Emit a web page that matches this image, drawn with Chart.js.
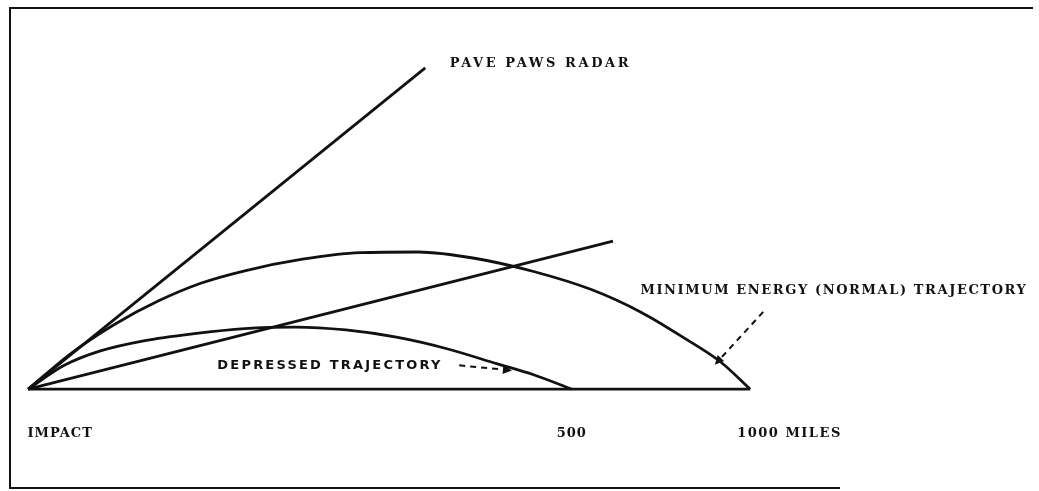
<!DOCTYPE html>
<html>
<head>
<meta charset="utf-8">
<script src="https://cdn.jsdelivr.net/npm/chart.js"></script>
<style>
  html, body { margin: 0; padding: 0; background: #fff; }
  #wrap { width: 1039px; height: 491px; }
</style>
</head>
<body>
<div id="wrap"><canvas id="myChart"></canvas></div>
<script>
// ground range (x) and altitude (y) in drawing units
const baseline = [{x: 0, y: 0}, {x: 1000, y: 0}];
const paveLine = [{x: 0, y: 0}, {x: 550, y: 445}];
const lowLine = [{x: 0, y: 0}, {x: 810, y: 205}];
const normalX = [0, 60, 120, 180, 240, 300, 380, 460, 540, 620, 700, 780, 850, 910, 960, 1000];
const normalY = [0, 50, 90, 122, 147, 164, 180, 189, 190, 181, 163, 138, 106, 70, 37, 0];
const depressedX = [0, 50, 100, 160, 230, 300, 370, 440, 510, 580, 650, 700, 753];
const depressedY = [0, 33, 53, 67, 77, 84, 86, 82, 72, 56, 35, 20, 0];

const pts = (xs, ys) => xs.map((x, i) => ({x: x, y: ys[i]}));

// text labels and arrows, anchored in the same units
const labels = [
  {text: 'PAVE PAWS RADAR', x: 584, y: 451, align: 'left', spacing: 2.6},
  {text: 'DEPRESSED TRAJECTORY', x: 262, y: 33, align: 'left', spacing: 2.2, sans: true},
  {text: 'MINIMUM ENERGY (NORMAL) TRAJECTORY', x: 848, y: 137, align: 'left', spacing: 1.6},
  {text: 'IMPACT', x: -1, y: -61, align: 'left', spacing: 1},
  {text: '500', x: 753, y: -61, align: 'center', spacing: 1},
  {text: '1000 MILES', x: 982, y: -61, align: 'left', spacing: 1.5}
];
const arrows = [
  {from: {x: 597, y: 33}, to: {x: 670, y: 26}},
  {from: {x: 1018, y: 107}, to: {x: 951, y: 34}}
];

const ink = '#111';

const drawingPlugin = {
  id: 'drawing',
  afterDraw(chart) {
    const c = chart.ctx;
    const xs = chart.scales.x, ys = chart.scales.y;
    c.save();
    // frame of the scanned figure (no right edge)
    c.strokeStyle = ink;
    c.lineWidth = 2;
    c.beginPath();
    c.moveTo(1033, 8);
    c.lineTo(10, 8);
    c.lineTo(10, 488);
    c.lineTo(840, 488);
    c.stroke();

    c.fillStyle = ink;
    c.textBaseline = 'middle';
    labels.forEach(l => {
      c.font = l.sans ? 'bold 13px "DejaVu Sans"' : 'bold 13px "DejaVu Serif"';
      c.letterSpacing = l.spacing + 'px';
      c.textAlign = l.align;
      c.fillText(l.text, xs.getPixelForValue(l.x), ys.getPixelForValue(l.y));
    });

    arrows.forEach(a => {
      const x1 = xs.getPixelForValue(a.from.x), y1 = ys.getPixelForValue(a.from.y);
      const x2 = xs.getPixelForValue(a.to.x), y2 = ys.getPixelForValue(a.to.y);
      const ang = Math.atan2(y2 - y1, x2 - x1);
      c.setLineDash([6, 5]);
      c.lineWidth = 2;
      c.beginPath();
      c.moveTo(x1, y1);
      c.lineTo(x2 - 8 * Math.cos(ang), y2 - 8 * Math.sin(ang));
      c.stroke();
      c.setLineDash([]);
      c.beginPath();
      c.moveTo(x2, y2);
      c.lineTo(x2 - 10 * Math.cos(ang - 0.45), y2 - 10 * Math.sin(ang - 0.45));
      c.lineTo(x2 - 10 * Math.cos(ang + 0.45), y2 - 10 * Math.sin(ang + 0.45));
      c.closePath();
      c.fill();
    });
    c.restore();
  }
};

const line = (data, smooth) => ({
  data: data,
  showLine: true,
  borderColor: ink,
  borderWidth: 2.8,
  pointRadius: 0,
  cubicInterpolationMode: smooth ? 'monotone' : 'default',
  tension: 0,
  fill: false
});

new Chart(document.getElementById('myChart'), {
  type: 'scatter',
  data: {
    datasets: [
      line(baseline, false),
      line(paveLine, false),
      line(lowLine, false),
      line(pts(normalX, normalY), true),
      line(pts(depressedX, depressedY), true)
    ]
  },
  options: {
    responsive: true,
    maintainAspectRatio: false,
    animation: false,
    events: [],
    layout: { padding: 0 },
    plugins: { legend: { display: false }, tooltip: { enabled: false } },
    scales: {
      x: { type: 'linear', min: -39, max: 1400, display: false },
      y: { type: 'linear', min: -141, max: 539, display: false }
    }
  },
  plugins: [drawingPlugin]
});
</script>
</body>
</html>
